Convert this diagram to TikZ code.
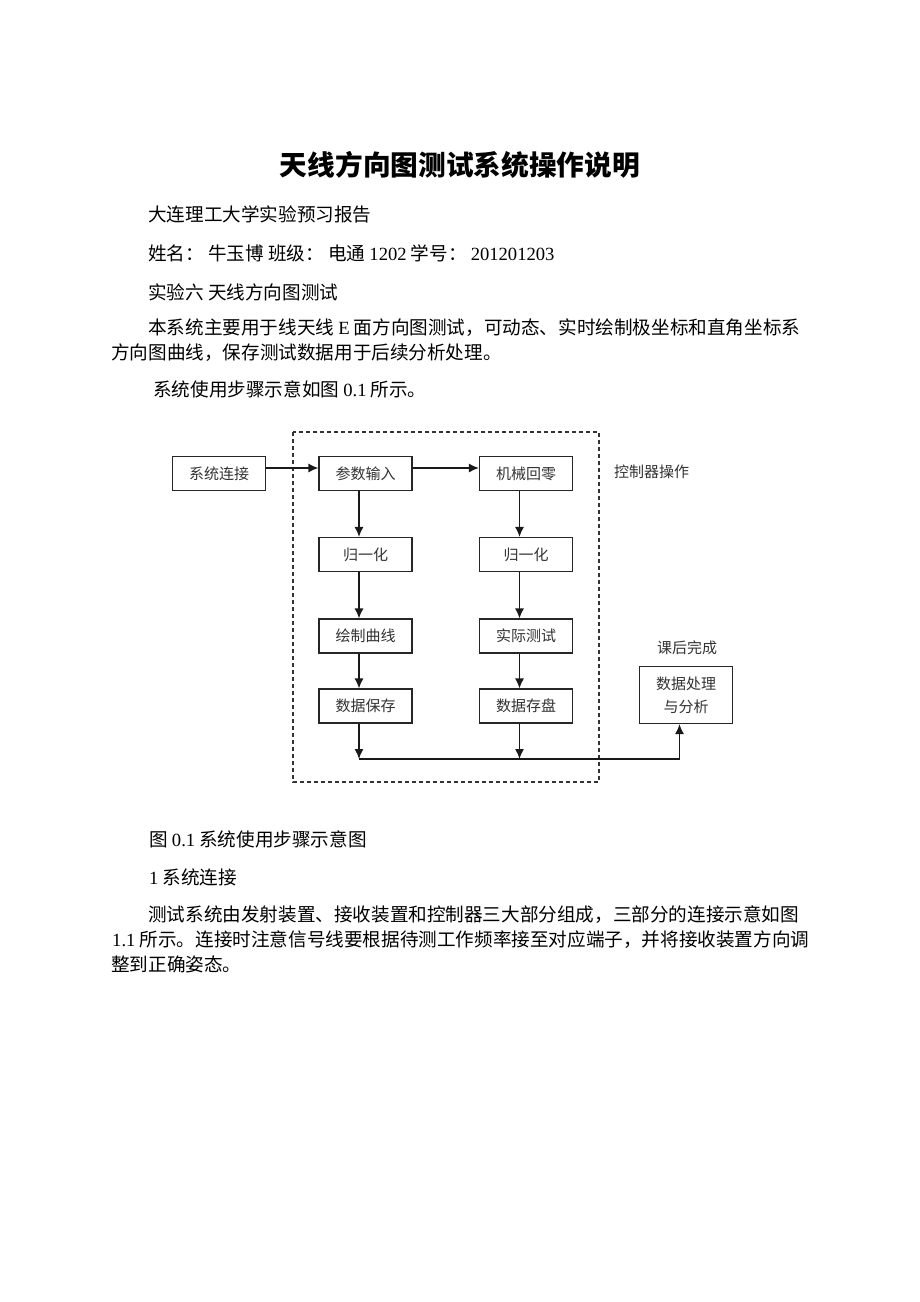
\documentclass[tikz,border=0pt]{standalone}
\usepackage{fontspec}
\setmainfont{Liberation Serif}
\newfontfamily\cjk{Noto Sans CJK SC}
\usetikzlibrary{arrows.meta}
\newcommand{\lat}[1]{{\rmfamily #1}}

\begin{document}
\begin{tikzpicture}[x=1pt,y=-1pt,>={Latex[length=10pt,width=9pt]},
    blocco/.style={draw=black!85,line width=1.1pt,minimum width=93pt,minimum height=34pt,inner sep=0pt,font=\cjk\fontsize{15}{18}\selectfont,text=black!80},
    etichetta/.style={inner sep=0pt,font=\cjk\fontsize{15}{18}\selectfont,text=black!80},
    riga/.style={anchor=west,inner sep=0pt,font=\cjk\fontsize{18.6}{22}\selectfont},
    freccia/.style={->,line width=1.4pt,black!90}]
  \fill[white] (0,0) rectangle (920,1302);
  \useasboundingbox (0,0) rectangle (920,1302);
  %testo
  \node[inner sep=0pt,font=\cjk\bfseries\fontsize{27.7}{32}\selectfont] (titolo) at (460,165) {天线方向图测试系统操作说明};
  \node[riga] (r1) at (148,214) {大连理工大学实验预习报告};
  \node[riga] (r2) at (148,253) {姓名： 牛玉博 班级： 电通 \lat{1202} 学号： \lat{201201203}};
  \node[riga] (r3) at (148,292) {实验六 天线方向图测试};
  \node[riga] (r4) at (148,328) {本系统主要用于线天线 \lat{E} 面方向图测试，可动态、实时绘制极坐标和直角坐标系};
  \node[riga] (r5) at (111,353) {方向图曲线，保存测试数据用于后续分析处理。};
  \node[riga] (r6) at (153,389) {系统使用步骤示意如图 \lat{0.1} 所示。};
  \node[riga] (r7) at (149,839) {图 \lat{0.1} 系统使用步骤示意图};
  \node[riga] (r8) at (149,877) {\lat{1} 系统连接};
  \node[riga] (r9) at (148,915) {测试系统由发射装置、接收装置和控制器三大部分组成，三部分的连接示意如图};
  \node[riga] (r10) at (112,940) {\lat{1.1} 所示。连接时注意信号线要根据待测工作频率接至对应端子，并将接收装置方向调};
  \node[riga] (r11) at (111,964) {整到正确姿态。};
  %blocchi
  \draw[dashed,dash pattern=on 4pt off 3pt,line width=1.1pt,black!80] (293,432) rectangle (599,782);
  \node[blocco] (conn) at (219,473.5) {系统连接};
  \node[blocco] (param) at (365.5,473.5) {参数输入};
  \node[blocco] (zero) at (526,473.5) {机械回零};
  \node[blocco] (norma) at (365.5,554.5) {归一化};
  \node[blocco] (normb) at (526,554.5) {归一化};
  \node[blocco] (curva) at (365.5,636) {绘制曲线};
  \node[blocco] (prova) at (526,636) {实际测试};
  \node[blocco] (salva) at (365.5,706) {数据保存};
  \node[blocco] (disco) at (526,706) {数据存盘};
  \node[blocco,minimum height=57pt,align=center,font=\cjk\fontsize{15}{23}\selectfont] (analisi) at (686,695) {数据处理\\与分析};
  \node[etichetta,anchor=west] (ctrl) at (614,472) {控制器操作};
  \node[etichetta] (dopo) at (687,648) {课后完成};
  %frecce
  \coordinate (ga) at (359,759);
  \coordinate (gb) at (519.5,759);
  \coordinate (gc) at (679.5,759);
  \draw[freccia] ([yshift=5.5pt]conn.east) -- ([yshift=5.5pt]param.west);
  \draw[freccia] ([yshift=5.5pt]param.east) -- ([yshift=5.5pt]zero.west);
  \draw[freccia] ([xshift=-6.5pt]param.south) -- ([xshift=-6.5pt]norma.north);
  \draw[freccia] ([xshift=-6.5pt]norma.south) -- ([xshift=-6.5pt]curva.north);
  \draw[freccia] ([xshift=-6.5pt]curva.south) -- ([xshift=-6.5pt]salva.north);
  \draw[freccia] ([xshift=-6.5pt]zero.south) -- ([xshift=-6.5pt]normb.north);
  \draw[freccia] ([xshift=-6.5pt]normb.south) -- ([xshift=-6.5pt]prova.north);
  \draw[freccia] ([xshift=-6.5pt]prova.south) -- ([xshift=-6.5pt]disco.north);
  \draw[freccia] ([xshift=-6.5pt]salva.south) -- (ga);
  \draw[freccia] ([xshift=-6.5pt]disco.south) -- (gb);
  \draw[freccia] (ga) -- (gc) -- ([xshift=-6.5pt]analisi.south);
\end{tikzpicture}
\end{document}
